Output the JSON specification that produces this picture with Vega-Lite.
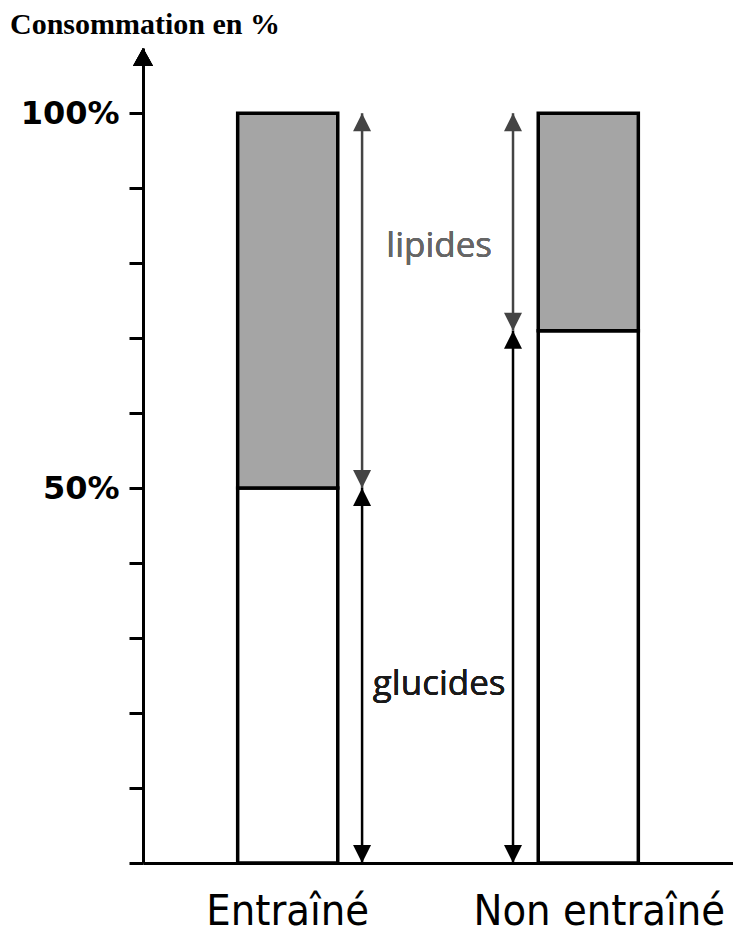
{
  "$schema": "https://vega.github.io/schema/vega-lite/v6.json",
  "autosize": {"type": "none"},
  "padding": {"left": 143, "top": 48, "right": 0, "bottom": 74},
  "width": 590,
  "height": 815,
  "background": "white",
  "title": {
    "text": "Consommation en %",
    "anchor": "start",
    "frame": "group",
    "dx": -133,
    "offset": -16,
    "baseline": "alphabetic",
    "font": "Liberation Serif",
    "fontSize": 30,
    "fontWeight": "bold",
    "color": "black"
  },
  "config": {"view": {"stroke": null}},
  "data": {
    "values": [
      {"groupe": "Entraîné", "nutriment": "glucides", "part": 50},
      {"groupe": "Entraîné", "nutriment": "lipides", "part": 50},
      {"groupe": "Non entraîné", "nutriment": "glucides", "part": 71},
      {"groupe": "Non entraîné", "nutriment": "lipides", "part": 29}
    ]
  },
  "transform": [
    {"stack": "part", "groupby": ["groupe"], "sort": [{"field": "nutriment", "order": "ascending"}], "as": ["debut", "fin"]}
  ],
  "layer": [
    {
      "mark": {"type": "bar", "stroke": "black", "strokeWidth": 3.5},
      "encoding": {
        "x": {
          "field": "groupe",
          "type": "nominal",
          "sort": ["Entraîné", "Non entraîné"],
          "scale": {"paddingInner": 0.667, "paddingOuter": 0.315},
          "axis": {
            "title": null,
            "ticks": false,
            "tickSize": 0,
            "domainColor": "black",
            "domainWidth": 3,
            "labelAngle": 0,
            "labelLimit": 0,
            "labelFont": "Liberation Sans Narrow, DejaVu Sans Condensed, sans-serif",
            "labelFontSize": 43,
            "labelColor": "black",
            "labelBaseline": "alphabetic",
            "labelPadding": 61,
            "labelOffset": {"condition": {"test": "datum.value === 'Non entraîné'", "value": 11}, "value": 0}
          }
        },
        "y": {
          "field": "debut",
          "type": "quantitative",
          "scale": {"domain": [0, 108.7], "nice": false, "zero": true},
          "axis": {
            "title": null,
            "values": [0, 10, 20, 30, 40, 50, 60, 70, 80, 90, 100],
            "labelExpr": "datum.value == 100 ? '100%' : datum.value == 50 ? '50%' : ''",
            "grid": false,
            "domainColor": "black",
            "domainWidth": 3,
            "tickColor": "black",
            "tickWidth": 3,
            "tickSize": 14,
            "labelFont": "DejaVu Sans",
            "labelFontWeight": "bold",
            "labelFontSize": 32,
            "labelColor": "black",
            "labelPadding": 10
          }
        },
        "y2": {"field": "fin"},
        "fill": {
          "field": "nutriment",
          "type": "nominal",
          "scale": {"domain": ["glucides", "lipides"], "range": ["white", "#a5a5a5"]},
          "legend": null
        }
      }
    },
    {
      "transform": [{"filter": "datum.groupe === 'Entraîné'"}],
      "encoding": {
        "x": {"field": "groupe", "type": "nominal", "bandPosition": 1.243},
        "color": {"condition": {"test": "datum.nutriment === 'lipides'", "value": "#444444"}, "value": "black"}
      },
      "layer": [
        {"mark": {"type": "rule", "strokeWidth": 2.5}, "encoding": {"y": {"field": "debut", "type": "quantitative"}, "y2": {"field": "fin"}}},
        {"mark": {"type": "point", "filled": true, "opacity": 1, "size": 324, "shape": "M0,0L-1,2L1,2Z"}, "encoding": {"y": {"field": "fin", "type": "quantitative"}}},
        {"mark": {"type": "point", "filled": true, "opacity": 1, "size": 324, "shape": "M0,0L-1,-2L1,-2Z"}, "encoding": {"y": {"field": "debut", "type": "quantitative"}}}
      ]
    },
    {
      "transform": [{"filter": "datum.groupe === 'Non entraîné'"}],
      "encoding": {
        "x": {"field": "groupe", "type": "nominal", "bandPosition": -0.252},
        "color": {"condition": {"test": "datum.nutriment === 'lipides'", "value": "#444444"}, "value": "black"}
      },
      "layer": [
        {"mark": {"type": "rule", "strokeWidth": 2.5}, "encoding": {"y": {"field": "debut", "type": "quantitative"}, "y2": {"field": "fin"}}},
        {"mark": {"type": "point", "filled": true, "opacity": 1, "size": 324, "shape": "M0,0L-1,2L1,2Z"}, "encoding": {"y": {"field": "fin", "type": "quantitative"}}},
        {"mark": {"type": "point", "filled": true, "opacity": 1, "size": 324, "shape": "M0,0L-1,-2L1,-2Z"}, "encoding": {"y": {"field": "debut", "type": "quantitative"}}}
      ]
    },
    {
      "mark": {"type": "point", "filled": true, "opacity": 1, "size": 400, "shape": "M0,0L-1,1.8L1,1.8Z", "color": "black"},
      "encoding": {"x": {"value": 0}, "y": {"datum": 108.7, "type": "quantitative"}}
    },
    {
      "mark": {"type": "text", "font": "Open Sans", "fontSize": 35, "color": "#666666", "baseline": "alphabetic", "align": "center"},
      "encoding": {"x": {"datum": "Entraîné", "bandPosition": 2.013}, "y": {"datum": 80.8, "type": "quantitative"}, "text": {"value": "lipides"}}
    },
    {
      "mark": {"type": "text", "font": "Open Sans", "fontSize": 35, "color": "#1a1a1a", "baseline": "alphabetic", "align": "center"},
      "encoding": {"x": {"datum": "Entraîné", "bandPosition": 2.013}, "y": {"datum": 22.4, "type": "quantitative"}, "text": {"value": "glucides"}}
    }
  ]
}
